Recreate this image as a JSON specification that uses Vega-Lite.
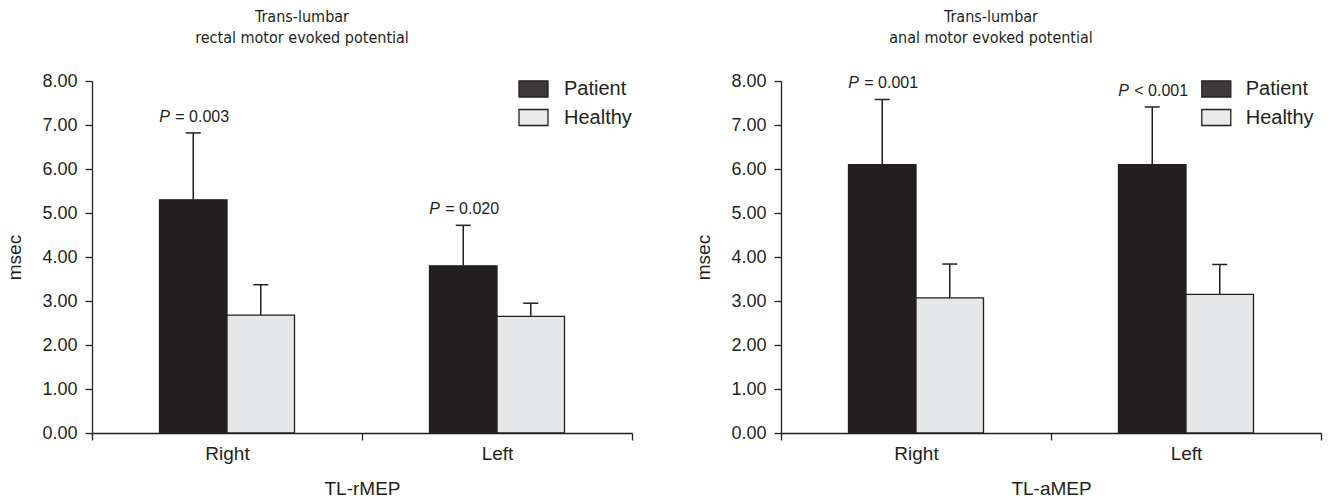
{
  "$schema": "https://vega.github.io/schema/vega-lite/v6.json",
  "background": "white",
  "padding": {"left": 5, "top": 9, "right": 5, "bottom": 0},
  "bounds": "flush",
  "spacing": 149,
  "data": {
    "values": [
      {"panel": "r", "side": "Right", "group": "Patient", "value": 5.30, "upper": 6.82, "p": "= 0.003"},
      {"panel": "r", "side": "Right", "group": "Healthy", "value": 2.68, "upper": 3.37, "p": ""},
      {"panel": "r", "side": "Left", "group": "Patient", "value": 3.80, "upper": 4.72, "p": "= 0.020"},
      {"panel": "r", "side": "Left", "group": "Healthy", "value": 2.65, "upper": 2.95, "p": ""},
      {"panel": "a", "side": "Right", "group": "Patient", "value": 6.10, "upper": 7.58, "p": "= 0.001"},
      {"panel": "a", "side": "Right", "group": "Healthy", "value": 3.07, "upper": 3.84, "p": ""},
      {"panel": "a", "side": "Left", "group": "Patient", "value": 6.10, "upper": 7.41, "p": "< 0.001"},
      {"panel": "a", "side": "Left", "group": "Healthy", "value": 3.15, "upper": 3.83, "p": ""}
    ]
  },
  "resolve": {"scale": {"fill": "independent"}, "legend": {"fill": "independent"}},
  "config": {
    "font": "Liberation Sans",
    "view": {"stroke": null},
    "title": {"font": "Liberation Sans Narrow, DejaVu Sans Condensed, Liberation Sans", "fontSize": 16, "fontWeight": "normal", "lineHeight": 21, "color": "#231f20", "offset": 26, "anchor": "middle", "frame": "group", "dx": -60},
    "axis": {"grid": false, "domainColor": "#231f20", "tickColor": "#231f20", "labelColor": "#231f20", "titleColor": "#231f20", "domainWidth": 1.3, "tickWidth": 1.3, "tickSize": 7, "titleFontWeight": "normal", "titleFont": "Liberation Sans", "labelFont": "Liberation Sans"},
    "legend": {"labelFont": "Liberation Sans", "labelColor": "#231f20"}
  },
  "hconcat": [
    {
      "width": 540,
      "height": 352,
      "title": {"text": ["Trans-lumbar", "rectal motor evoked potential"]},
      "transform": [{"filter": "datum.panel === 'r'"}],
      "encoding": {
        "x": {"field": "side", "type": "nominal", "sort": ["Right", "Left"], "title": "TL-rMEP",
              "scale": {"paddingInner": 0, "paddingOuter": 0},
              "axis": {"labelAngle": 0, "tickBand": "extent", "labelFontSize": 19, "titleFontSize": 19, "labelPadding": 4, "titlePadding": 16}},
        "xOffset": {"field": "group", "type": "nominal", "scale": {"domain": ["Patient", "Healthy"], "paddingOuter": 1.08, "paddingInner": 0}}
      },
      "layer": [
        {
          "mark": {"type": "bar", "stroke": "#231f20", "strokeWidth": 1.3},
          "encoding": {
            "y": {"field": "value", "type": "quantitative", "title": "msec", "scale": {"domain": [0, 8]},
                  "axis": {"values": [0, 1, 2, 3, 4, 5, 6, 7, 8], "format": ".2f", "labelFontSize": 18, "titleFontSize": 19, "labelPadding": 8, "titlePadding": 17}},
            "fill": {"field": "group", "type": "nominal", "scale": {"domain": ["Patient", "Healthy"], "range": ["#231f20", "#e6e7e8"]},
                     "legend": {"orient": "none", "legendX": 430.5, "legendY": -3, "title": null, "padding": 0,
                                "symbolType": "M-1.45,-0.8H1.45V0.8H-1.45Z", "symbolSize": 400, "symbolStrokeColor": "#231f20", "symbolStrokeWidth": 1.3,
                                "labelFontSize": 20, "labelOffset": 19.5, "rowPadding": 6.5,
                                "encode": {"symbols": {"update": {"fillOpacity": {"value": 0.88}}}}}}
          }
        },
        {
          "mark": {"type": "rule", "strokeWidth": 1.5, "color": "#231f20"},
          "encoding": {"y": {"field": "value", "type": "quantitative"}, "y2": {"field": "upper"}}
        },
        {
          "mark": {"type": "tick", "orient": "horizontal", "size": 15, "thickness": 1.5, "color": "#231f20", "opacity": 1},
          "encoding": {"y": {"field": "upper", "type": "quantitative"}}
        },
        {
          "transform": [{"filter": "datum.p !== ''"}],
          "mark": {"type": "text", "text": "P", "fontStyle": "italic", "align": "left", "baseline": "middle", "dx": -34, "dy": -16, "fontSize": 16, "color": "#231f20"},
          "encoding": {"y": {"field": "upper", "type": "quantitative"}}
        },
        {
          "transform": [{"filter": "datum.p !== ''"}],
          "mark": {"type": "text", "align": "left", "baseline": "middle", "dx": -18, "dy": -16, "fontSize": 16, "color": "#231f20"},
          "encoding": {"y": {"field": "upper", "type": "quantitative"}, "text": {"field": "p"}}
        }
      ]
    },
    {
      "width": 540,
      "height": 352,
      "title": {"text": ["Trans-lumbar", "anal motor evoked potential"]},
      "transform": [{"filter": "datum.panel === 'a'"}],
      "encoding": {
        "x": {"field": "side", "type": "nominal", "sort": ["Right", "Left"], "title": "TL-aMEP",
              "scale": {"paddingInner": 0, "paddingOuter": 0},
              "axis": {"labelAngle": 0, "tickBand": "extent", "labelFontSize": 19, "titleFontSize": 19, "labelPadding": 4, "titlePadding": 16}},
        "xOffset": {"field": "group", "type": "nominal", "scale": {"domain": ["Patient", "Healthy"], "paddingOuter": 1.08, "paddingInner": 0}}
      },
      "layer": [
        {
          "mark": {"type": "bar", "stroke": "#231f20", "strokeWidth": 1.3},
          "encoding": {
            "y": {"field": "value", "type": "quantitative", "title": "msec", "scale": {"domain": [0, 8]},
                  "axis": {"values": [0, 1, 2, 3, 4, 5, 6, 7, 8], "format": ".2f", "labelFontSize": 18, "titleFontSize": 19, "labelPadding": 8, "titlePadding": 17}},
            "fill": {"field": "group", "type": "nominal", "scale": {"domain": ["Patient", "Healthy"], "range": ["#231f20", "#e6e7e8"]},
                     "legend": {"orient": "none", "legendX": 424.3, "legendY": -3, "title": null, "padding": 0,
                                "symbolType": "M-1.45,-0.8H1.45V0.8H-1.45Z", "symbolSize": 400, "symbolStrokeColor": "#231f20", "symbolStrokeWidth": 1.3,
                                "labelFontSize": 20, "labelOffset": 18.4, "rowPadding": 6.5,
                                "encode": {"symbols": {"update": {"fillOpacity": {"value": 0.88}}}}}}
          }
        },
        {
          "mark": {"type": "rule", "strokeWidth": 1.5, "color": "#231f20"},
          "encoding": {"y": {"field": "value", "type": "quantitative"}, "y2": {"field": "upper"}}
        },
        {
          "mark": {"type": "tick", "orient": "horizontal", "size": 15, "thickness": 1.5, "color": "#231f20", "opacity": 1},
          "encoding": {"y": {"field": "upper", "type": "quantitative"}}
        },
        {
          "transform": [{"filter": "datum.p !== ''"}],
          "mark": {"type": "text", "text": "P", "fontStyle": "italic", "align": "left", "baseline": "middle", "dx": -34, "dy": -16, "fontSize": 16, "color": "#231f20"},
          "encoding": {"y": {"field": "upper", "type": "quantitative"}}
        },
        {
          "transform": [{"filter": "datum.p !== ''"}],
          "mark": {"type": "text", "align": "left", "baseline": "middle", "dx": -18, "dy": -16, "fontSize": 16, "color": "#231f20"},
          "encoding": {"y": {"field": "upper", "type": "quantitative"}, "text": {"field": "p"}}
        }
      ]
    }
  ]
}
